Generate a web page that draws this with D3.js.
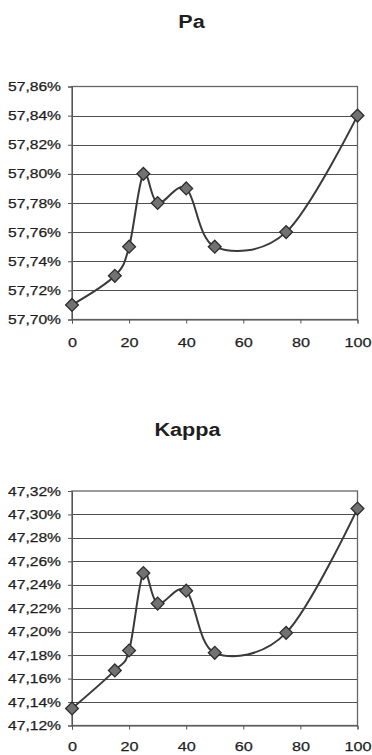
<!DOCTYPE html>
<html>
<head>
<meta charset="utf-8">
<script src="https://cdn.jsdelivr.net/npm/d3@7"></script>
<style>
  html, body { margin: 0; padding: 0; background: #fff; }
  svg { display: block; }
  text { font-family: "Liberation Sans", Arial, sans-serif; fill: #1e1e1e; }
</style>
</head>
<body>
<svg id="chart" width="372" height="755"></svg>
<script>
// ---- data ----
const xValues = [0, 15, 20, 25, 30, 40, 50, 75, 100];
const paValues = [57.71, 57.73, 57.75, 57.80, 57.78, 57.79, 57.75, 57.76, 57.84];
const kappaValues = [47.1345, 47.167, 47.184, 47.25, 47.224, 47.235, 47.182, 47.199, 47.305];
const xTicks = [0, 20, 40, 60, 80, 100];
const paTicks = [57.70, 57.72, 57.74, 57.76, 57.78, 57.80, 57.82, 57.84, 57.86];
const kappaTicks = [47.12, 47.14, 47.16, 47.18, 47.20, 47.22, 47.24, 47.26, 47.28, 47.30, 47.32];
const titles = ["Pa", "Kappa"];

const svg = d3.select("#chart");
const fmt = v => d3.format(".2f")(v).replace(".", ",") + "%";

const panels = [
  { title: titles[0], values: paValues, ticks: paTicks, top: 86.5, bottom: 319.5, titleY: 28, titleX: 191.5, xLabelY: 347 },
  { title: titles[1], values: kappaValues, ticks: kappaTicks, top: 491, bottom: 725.5, titleY: 436, titleX: 187.5, xLabelY: 751 }
];

const left = 72, right = 357.5;

panels.forEach(p => {
  const x = d3.scaleLinear().domain([0, 100]).range([left, right]);
  const y = d3.scaleLinear().domain([p.ticks[0], p.ticks[p.ticks.length - 1]]).range([p.bottom, p.top]);
  const g = svg.append("g");

  // title
  g.append("text").attr("class", "stretch").attr("data-k", 1.2)
    .attr("x", p.titleX).attr("y", p.titleY)
    .attr("text-anchor", "middle").attr("font-weight", "bold").attr("font-size", 18)
    .text(p.title);

  // gridlines
  g.selectAll(".grid").data(p.ticks.slice(1, -1)).join("line")
    .attr("x1", left).attr("x2", right)
    .attr("y1", d => Math.round(y(d)) + 0.5).attr("y2", d => Math.round(y(d)) + 0.5)
    .attr("stroke", "#505050").attr("stroke-width", 1);

  // plot border
  g.append("rect").attr("x", left).attr("y", p.top).attr("width", right - left).attr("height", p.bottom - p.top)
    .attr("fill", "none").attr("stroke", "#666").attr("stroke-width", 1.3);

  // y axis
  const yAxis = d3.axisLeft(y).tickValues(p.ticks).tickFormat(fmt).tickSize(4).tickPadding(7);
  const ya = g.append("g").attr("transform", `translate(${left},0)`).call(yAxis);
  ya.select(".domain").attr("stroke", "#555");
  ya.selectAll(".tick line").attr("stroke", "#555");
  ya.selectAll("text").attr("class", "stretch").attr("data-k", 1.25)
    .attr("font-size", 12.5).style("font-family", "'Liberation Sans', Arial, sans-serif")
    .attr("fill", "#1e1e1e").attr("stroke", "#1e1e1e").attr("stroke-width", 0.25);

  // x axis
  const xAxis = d3.axisBottom(x).tickValues(xTicks).tickFormat(d3.format("d")).tickSize(4).tickPadding(0);
  const xa = g.append("g").attr("transform", `translate(0,${p.bottom})`).call(xAxis);
  xa.select(".domain").attr("stroke", "#555");
  xa.selectAll(".tick line").attr("stroke", "#555");
  xa.selectAll("text").attr("class", "stretch").attr("data-k", 1.2)
    .attr("font-size", 13.5).attr("dy", null).attr("y", p.xLabelY - p.bottom)
    .style("font-family", "'Liberation Sans', Arial, sans-serif")
    .attr("fill", "#1e1e1e").attr("stroke", "#1e1e1e").attr("stroke-width", 0.25);

  // smoothed line
  const pts = xValues.map((xv, i) => [xv, p.values[i]]);
  const line = d3.line().x(d => x(d[0])).y(d => y(d[1])).curve(d3.curveCardinal.tension(0));
  g.append("path").datum(pts).attr("d", line)
    .attr("fill", "none").attr("stroke", "#3a3a3a").attr("stroke-width", 2);

  // diamond markers
  const sym = d3.symbol().type(d3.symbolSquare).size(82);
  g.selectAll(".mk").data(pts).join("path")
    .attr("d", sym)
    .attr("transform", d => `translate(${x(d[0])},${y(d[1])}) rotate(45)`)
    .attr("fill", "#727272").attr("stroke", "#2e2e2e").attr("stroke-width", 1.3);
});

// horizontal stretch of text to match reference proportions
svg.selectAll("text.stretch").each(function () {
  const k = +this.getAttribute("data-k");
  const w = this.getComputedTextLength();
  this.setAttribute("textLength", (w * k).toFixed(2));
  this.setAttribute("lengthAdjust", "spacingAndGlyphs");
});
</script>
</body>
</html>
